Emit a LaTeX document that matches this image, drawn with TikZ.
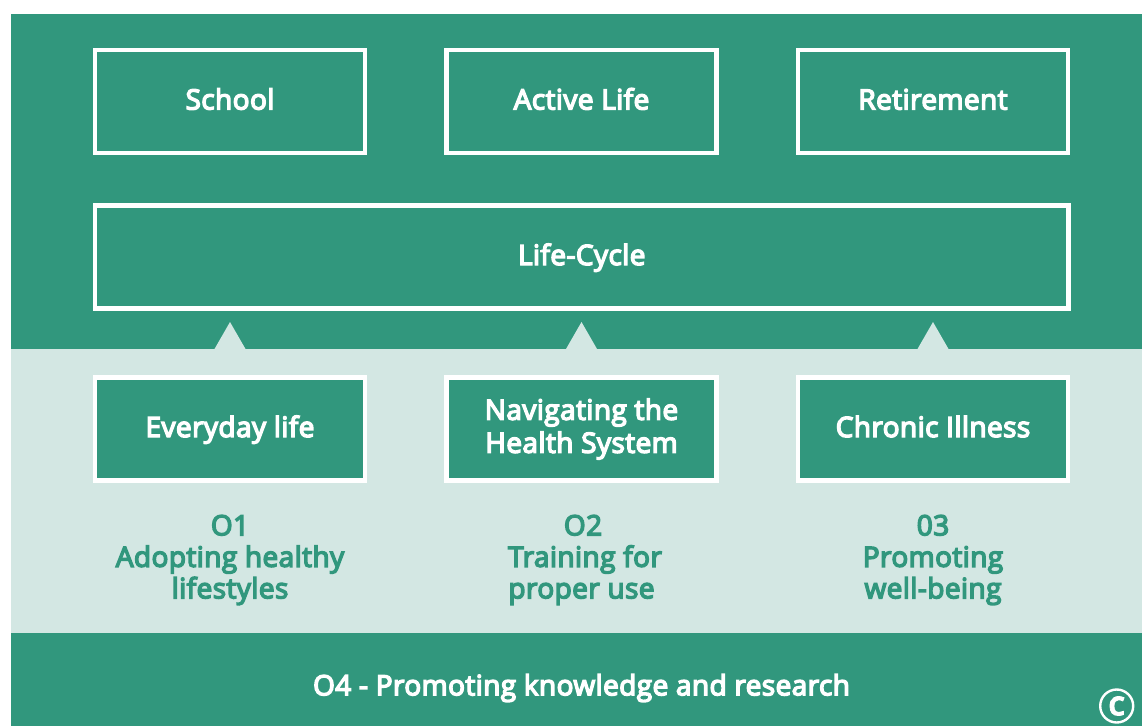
\documentclass[tikz,border=0pt]{standalone}
\usepackage{fontspec}
\setmainfont{Open Sans}[FakeBold=5,LetterSpace=1.5]
\newfontfamily\copyfont{Open Sans}[FakeBold=3,LetterSpace=0]
\definecolor{tealgreen}{HTML}{31977D}
\definecolor{palegreen}{HTML}{D3E7E3}
\newcommand{\fixedline}[1]{\raisebox{0pt}[21pt][5pt]{#1}}
\tikzset{
  x=1pt,y=-1pt,
  boxnode/.style={draw=white,line width=4.4pt,fill=tealgreen,text=white,minimum height=103pt,inner sep=0pt,align=center,font=\fontsize{28}{33}\selectfont},
  smallbox/.style={boxnode,minimum width=270pt},
  objective/.style={text=tealgreen,align=center,inner sep=0pt,font=\fontsize{28}{31.5}\selectfont},
}
\begin{document}
\begin{tikzpicture}
\useasboundingbox (0,0) rectangle (1142,726);
\fill[white] (0,0) rectangle (1142,726);
\fill[tealgreen] (11,14) rectangle (1142,349);
\fill[palegreen] (11,349) rectangle (1142,633);
\fill[tealgreen] (11,633) rectangle (1142,726);
\foreach \cx in {230,581.5,933}{
  \fill[palegreen] (\cx-15.8,349.5) -- (\cx,322) -- (\cx+15.8,349.5) -- cycle;
}
\node[smallbox] (school) at (230,101.5) {\fixedline{School}};
\node[smallbox] (active) at (581.5,101.5) {\fixedline{Active Life}};
\node[smallbox] (retire) at (933,101.5) {\fixedline{Retirement}};
\node[boxnode,minimum width=973.5pt] (cycle) at (581.75,257) {\fixedline{Life-Cycle}};
\node[smallbox] (everyday) at (230,429) {\fixedline{Everyday life}};
\node[smallbox] (navigate) at (581.5,429) {\raisebox{-1pt}{Navigating the}\\\raisebox{-1pt}{Health System}};
\node[smallbox] (chronic) at (933,429) {\fixedline{Chronic Illness}};
\node[objective] (o1) at (230,560) {O1\\Adopting healthy\\lifestyles};
\node[objective] (o2) at (581.5,560) {\hspace*{3pt}O2\\\hspace*{7pt}Training for\\proper use};
\node[objective] (o3) at (933,560) {03\\Promoting\\well-being};
\node[text=white,inner sep=0pt,font=\fontsize{28}{33}\selectfont] (o4) at (581.5,688) {O4 - Promoting knowledge and research};
\node[circle,draw=white,line width=2.4pt,minimum size=33pt,inner sep=0pt,text=white] (copy) at (1116.7,706) {\copyfont\bfseries\fontsize{26}{26}\selectfont C};
\end{tikzpicture}
\end{document}
